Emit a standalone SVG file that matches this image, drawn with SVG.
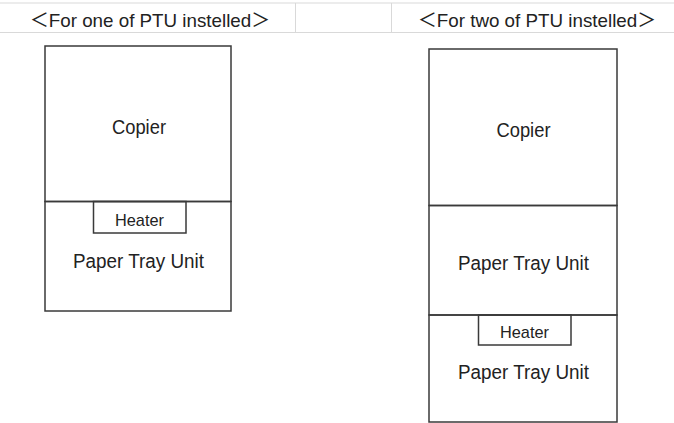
<svg xmlns="http://www.w3.org/2000/svg" width="674" height="423" viewBox="0 0 674 423">
  <style>
    .box { fill: none; stroke: #3a3a3a; stroke-width: 1.5; }
    .grid { stroke: #d9d9d9; stroke-width: 1; fill: none; }
    .lbl { font-family: "Liberation Sans", "Noto Sans CJK JP", sans-serif; font-size: 20px; fill: #222; text-anchor: middle; }
    .small { font-size: 17px; }
    .hdr { font-family: "Liberation Sans", "Noto Sans CJK JP", sans-serif; font-size: 19px; fill: #222; text-anchor: middle; }
  </style>
  <rect x="0" y="0" width="674" height="423" fill="#ffffff"/>
  <g id="header">
    <line class="grid" x1="0" y1="3" x2="674" y2="3"/>
    <line class="grid" x1="0" y1="32.5" x2="674" y2="32.5"/>
    <line class="grid" x1="295.5" y1="3" x2="295.5" y2="32.5"/>
    <line class="grid" x1="391.5" y1="3" x2="391.5" y2="32.5"/>
    <text class="hdr" x="150" y="27" textLength="240" lengthAdjust="spacingAndGlyphs">＜For one of PTU instelled＞</text>
    <text class="hdr" x="537" y="27" textLength="238" lengthAdjust="spacingAndGlyphs">＜For two of PTU instelled＞</text>
  </g>
  <g id="left-copier">
    <rect class="box" x="45" y="46" width="186" height="155.5"/>
    <text class="lbl" x="139" y="134" textLength="54" lengthAdjust="spacingAndGlyphs">Copier</text>
  </g>
  <g id="left-ptu">
    <rect class="box" x="45" y="201.5" width="186" height="109.5"/>
    <text class="lbl" x="138.5" y="267.5" textLength="131" lengthAdjust="spacingAndGlyphs">Paper Tray Unit</text>
  </g>
  <g id="left-heater">
    <rect class="box" x="93.5" y="201.5" width="92.5" height="31.5"/>
    <text class="lbl small" x="139.5" y="226" textLength="49" lengthAdjust="spacingAndGlyphs">Heater</text>
  </g>
  <g id="right-copier">
    <rect class="box" x="429" y="49" width="188" height="156.5"/>
    <text class="lbl" x="523.5" y="137" textLength="54" lengthAdjust="spacingAndGlyphs">Copier</text>
  </g>
  <g id="right-ptu1">
    <rect class="box" x="429" y="205.5" width="188" height="109.5"/>
    <text class="lbl" x="523.5" y="270" textLength="131" lengthAdjust="spacingAndGlyphs">Paper Tray Unit</text>
  </g>
  <g id="right-ptu2">
    <rect class="box" x="429" y="315" width="188" height="107"/>
    <text class="lbl" x="523.5" y="379" textLength="131" lengthAdjust="spacingAndGlyphs">Paper Tray Unit</text>
  </g>
  <g id="right-heater">
    <rect class="box" x="478.5" y="315" width="92.5" height="30"/>
    <text class="lbl small" x="524.5" y="338" textLength="49" lengthAdjust="spacingAndGlyphs">Heater</text>
  </g>
  <g id="connectors"></g>
</svg>
